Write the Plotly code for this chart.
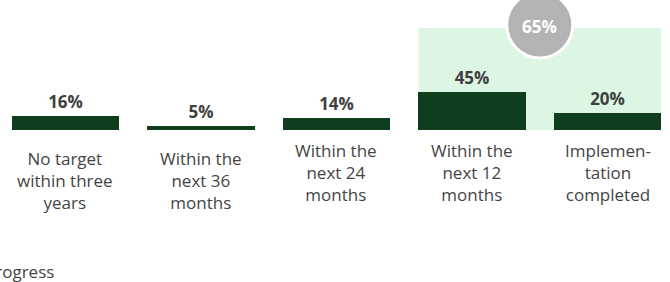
import plotly.graph_objects as go

categories = ["No target<br>within three<br>years", "Within the<br>next 36<br>months",
              "Within the<br>next 24<br>months", "Within the<br>next 12<br>months",
              "Implemen-<br>tation<br>completed"]
values = [16, 5, 14, 45, 20]
highlight_idx = [3, 4]
legend_text = "Progress"

x = list(range(len(categories)))
BAR_W = 0.79
DARK = "#0f3e1f"
TXT = "#444444"
FONT = "Open Sans"

fig = go.Figure()
fig.add_trace(go.Bar(
    x=x, y=values, width=BAR_W, marker=dict(color=DARK, line=dict(width=0)),
    text=[f"{v}%" for v in values], textposition="outside",
    textfont=dict(family=FONT, size=17, color="#404040", weight="bold"),
    cliponaxis=False, hoverinfo="skip",
))

# highlight band behind the last two bars
fig.add_shape(type="rect", xref="x", yref="paper",
              x0=highlight_idx[0] - BAR_W / 2, x1=highlight_idx[-1] + BAR_W / 2,
              y0=0, y1=0.785, fillcolor="#dcf6e3", line=dict(width=0), layer="below")

total = sum(values[i] for i in highlight_idx)
cx = (highlight_idx[0] + highlight_idx[-1]) / 2
fig.add_shape(type="circle", xref="x", yref="paper", xsizemode="pixel", ysizemode="pixel",
              xanchor=cx, yanchor=0.808, x0=-33, x1=33, y0=-33, y1=33,
              fillcolor="#b3b3b3", line=dict(color="white", width=3), layer="above")
fig.add_annotation(x=cx, y=0.795, xref="x", yref="paper", yanchor="middle",
                   text=f"<b>{total}%</b>",
                   showarrow=False, font=dict(family=FONT, size=17, color="white"))

shifts = [-15, -15, -7, -7, -7]
for i, c in enumerate(categories):
    fig.add_annotation(x=i, y=0, xref="x", yref="paper", yanchor="top", yshift=shifts[i],
                       text=c, showarrow=False, align="center",
                       font=dict(family=FONT, size=17, color=TXT))

fig.add_annotation(x=56 / 670, y=-1.092, xref="paper", yref="paper", xanchor="right",
                   yanchor="middle", text=legend_text, showarrow=False,
                   font=dict(family=FONT, size=17, color=TXT))

fig.update_layout(
    width=670, height=282, margin=dict(l=0, r=0, t=0, b=152),
    paper_bgcolor="white", plot_bgcolor="white", showlegend=False,
    xaxis=dict(range=[-0.483, 4.461], visible=False, fixedrange=True),
    yaxis=dict(range=[0, 153], visible=False, fixedrange=True),
    bargap=0,
)
fig.write_html("out.html", config={"displayModeBar": False},
               post_script="document.body.style.margin='0';document.body.style.overflow='hidden';")
